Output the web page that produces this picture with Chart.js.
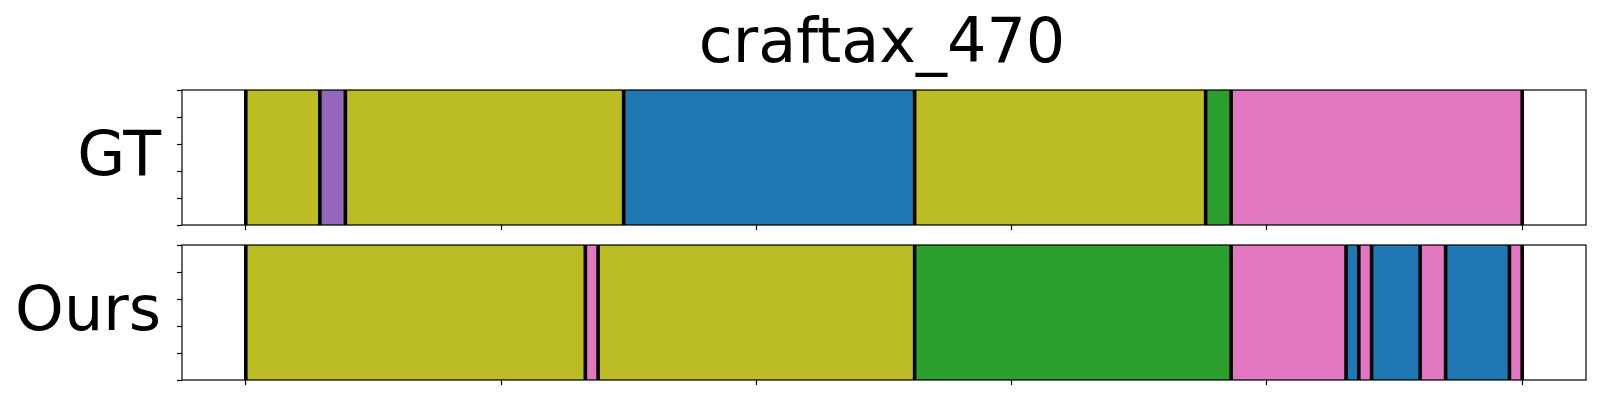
<!DOCTYPE html>
<html><head><meta charset="utf-8">
<script src="https://cdn.jsdelivr.net/npm/chart.js@4.4.1/dist/chart.umd.min.js"></script>
<style>html,body{margin:0;padding:0;background:#fff;} #wrap{position:relative;width:1600px;height:400px;} canvas{position:absolute;left:0;top:0;}</style>
</head><body><div id="wrap"><canvas id="c1" width="1600" height="400"></canvas><canvas id="c2" width="1600" height="400"></canvas></div>
<script>
const chartTitle = 'craftax_470';
const rowLabels = ['GT', 'Ours'];
const xTickStep = 100;
const yTickStep = 0.25;
const xRange = [-25, 525];
const yRange = [0, 1];
const gtBounds = [0, 29, 39, 148, 262, 376, 386, 500];
const gtClasses = ['olive', 'purple', 'olive', 'blue', 'olive', 'green', 'pink'];
const oursBounds = [0, 133, 138, 262, 386, 431, 436, 441, 460, 470, 495, 500];
const oursClasses = ['olive', 'pink', 'olive', 'green', 'pink', 'blue', 'pink', 'blue', 'pink', 'blue', 'pink'];
const classColors = {olive: '#bcbd22', purple: '#9467bd', blue: '#1f77b4', green: '#2ca02c', pink: '#e377c2'};

function darken(hex, f) {
  const n = parseInt(hex.slice(1), 16);
  const r = Math.round(((n >> 16) & 255) * f), g = Math.round(((n >> 8) & 255) * f), b = Math.round((n & 255) * f);
  return 'rgb(' + r + ',' + g + ',' + b + ')';
}

const FONT = '"DejaVu Sans", sans-serif';

function makeChart(id, bounds, classes, label, labelBaseline, padTop, padBottom, showTitle) {
  const datasets = classes.map((c, i) => ({
    data: [[bounds[i], bounds[i + 1]]],
    backgroundColor: classColors[c],
    borderColor: darken(classColors[c], 0.85),
    borderWidth: 1,
    borderSkipped: false,
    categoryPercentage: 1,
    barPercentage: 1,
    xAxisID: 'x',
    yAxisID: 'y'
  }));
  const decor = {
    id: 'decor',
    afterDatasetsDraw(chart) {
      const ctx = chart.ctx, a = chart.chartArea, xs = chart.scales.x;
      ctx.save();
      ctx.strokeStyle = '#000';
      ctx.lineWidth = 3.6;
      bounds.forEach(b => {
        const px = xs.getPixelForValue(b);
        ctx.beginPath(); ctx.moveTo(px, a.top); ctx.lineTo(px, a.bottom); ctx.stroke();
      });
      ctx.lineWidth = 1.2;
      ctx.strokeRect(a.left, a.top, a.right - a.left, a.bottom - a.top);
      ctx.fillStyle = '#000';
      ctx.font = '62px ' + FONT;
      ctx.textAlign = 'right';
      ctx.textBaseline = 'alphabetic';
      ctx.fillText(label, a.left - 21, labelBaseline);
      if (showTitle) {
        ctx.font = '62px ' + FONT;
        ctx.textAlign = 'center';
        ctx.fillText(chartTitle, (a.left + a.right) / 2 - 2, 62);
      }
      ctx.restore();
    }
  };
  return new Chart(document.getElementById(id), {
    type: 'bar',
    data: {labels: [label], datasets},
    options: {
      indexAxis: 'y',
      responsive: false,
      animation: false,
      events: [],
      layout: {padding: {left: 177, right: 14, top: padTop, bottom: padBottom}},
      plugins: {legend: {display: false}, tooltip: {enabled: false}, title: {display: false}},
      scales: {
        x: {
          type: 'linear', position: 'bottom', min: xRange[0], max: xRange[1],
          ticks: {display: false, stepSize: xTickStep, includeBounds: false, maxTicksLimit: 100},
          grid: {drawOnChartArea: false, drawTicks: true, tickLength: 5, tickColor: '#000', tickWidth: 1.2},
          border: {display: false}
        },
        y: {type: 'category', display: false, stacked: true},
        y2: {
          type: 'linear', position: 'left', min: yRange[0], max: yRange[1],
          ticks: {display: false, stepSize: yTickStep, includeBounds: false, maxTicksLimit: 100},
          grid: {drawOnChartArea: false, drawTicks: true, tickLength: 5, tickColor: '#000', tickWidth: 1.2},
          border: {display: false}
        }
      }
    },
    plugins: [decor]
  });
}

makeChart('c1', gtBounds, gtClasses, rowLabels[0], 175, 90, 170, true);
makeChart('c2', oursBounds, oursClasses, rowLabels[1], 330, 245, 15, false);
</script></body></html>
